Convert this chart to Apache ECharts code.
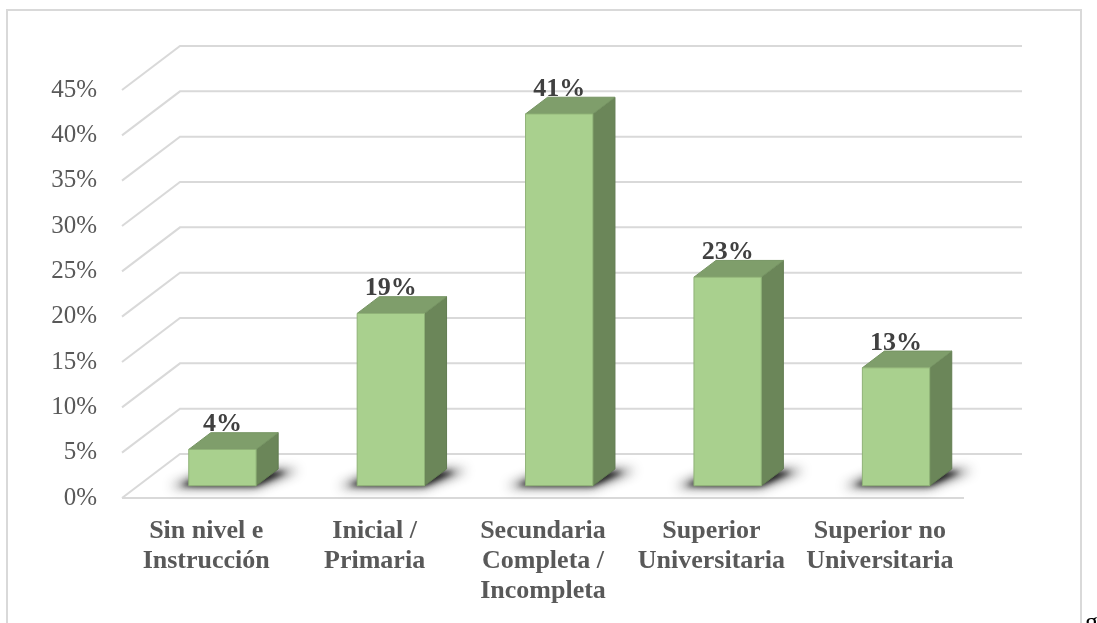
<!DOCTYPE html>
<html>
<head>
<meta charset="utf-8">
<script src="https://cdn.jsdelivr.net/npm/echarts@6/dist/echarts.min.js"></script>
<style>
  html, body { margin: 0; padding: 0; background: #ffffff; }
  #chart { width: 1097px; height: 623px; }
</style>
</head>
<body>
<div id="chart"></div>
<script>
// Education level distribution (percent of respondents)
const categories = [
  'Sin nivel e\nInstrucción',
  'Inicial /\nPrimaria',
  'Secundaria\nCompleta /\nIncompleta',
  'Superior\nUniversitaria',
  'Superior no\nUniversitaria'
];
const values = [4, 19, 41, 23, 13];
const yTicks = [0, 5, 10, 15, 20, 25, 30, 35, 40, 45];

// Oblique projection of the chart box: how far the back wall sits from the front plane
const DEPTH_X = 58;
const DEPTH_Y = 44;
// Where the bars sit inside that depth (fractions of it)
const BAR_FRONT = 0.28;
const BAR_DEPTH = 0.38;

const FONT = '"Liberation Serif", "Times New Roman", serif';
const GRID_COLOR = '#d9d9d9';

function renderWalls(params, api) {
  const cs = params.coordSys;
  const v = api.value(1);
  const y = api.coord([0, v])[1];
  const x0 = cs.x, x1 = cs.x + cs.width;
  const children = [{
    type: 'polyline',
    shape: { points: [[x0, y], [x0 + DEPTH_X, y - DEPTH_Y], [x1 + DEPTH_X, y - DEPTH_Y]] },
    style: { stroke: GRID_COLOR, lineWidth: 2, fill: null }
  }];
  if (v === 0) {
    children.push({
      type: 'line',
      shape: { x1: x0, y1: y, x2: x1, y2: y },
      style: { stroke: GRID_COLOR, lineWidth: 2 }
    });
  }
  return { type: 'group', children: children };
}

// blurred dark footprint on the floor; the shape itself sits off-canvas
function floorShadow(pts, blur, color) {
  const OFF = 3000;
  return {
    type: 'polygon',
    shape: { points: pts.map(p => [p[0] - OFF, p[1]]) },
    style: { fill: '#000', shadowColor: color, shadowBlur: blur, shadowOffsetX: OFF, shadowOffsetY: 0 }
  };
}

function renderBar(params, api) {
  const idx = api.value(0);
  const val = api.value(1);
  const base = api.coord([idx, 0]);
  const top = api.coord([idx, val]);
  const w = api.size([1, 0])[0] * 0.4;
  const cx = base[0] + DEPTH_X * BAR_FRONT;
  const yB = base[1] - DEPTH_Y * BAR_FRONT;
  const yT = top[1] - DEPTH_Y * BAR_FRONT;
  const xL = cx - w / 2, xR = cx + w / 2;
  const dx = DEPTH_X * BAR_DEPTH, dy = DEPTH_Y * BAR_DEPTH;
  return {
    type: 'group',
    children: [
      floorShadow([
        [xL - 18, yB + 1], [xR, yB + 1],
        [xR + dx + 20, yB - dy + 1], [xL + dx, yB - dy + 1]
      ], 11, 'rgba(30,30,30,0.85)'),
      floorShadow([
        [xL - 8, yB], [xR, yB],
        [xR + dx + 8, yB - dy + 3], [xL + dx, yB - dy + 3]
      ], 5, 'rgba(20,20,20,0.8)'),
      {
        type: 'polygon',
        shape: { points: [[xR, yT], [xR + dx, yT - dy], [xR + dx, yB - dy], [xR, yB]] },
        style: { fill: '#6b8659', stroke: '#627c51', lineWidth: 1 }
      },
      {
        type: 'polygon',
        shape: { points: [[xL, yT], [xR, yT], [xR + dx, yT - dy], [xL + dx, yT - dy]] },
        style: { fill: '#7f9e6b', stroke: '#769463', lineWidth: 1 }
      },
      {
        type: 'rect',
        shape: { x: xL, y: yT, width: w, height: yB - yT },
        style: { fill: '#a9d08e', stroke: '#8fb277', lineWidth: 1 }
      },
      {
        type: 'text',
        style: {
          text: val + '%', x: cx, y: yT - 25,
          align: 'center', verticalAlign: 'middle',
          fontFamily: FONT, fontWeight: 'bold', fontSize: 26, fill: '#404040'
        }
      }
    ]
  };
}

const chart = echarts.init(document.getElementById('chart'), null, { renderer: 'canvas' });
chart.setOption({
  animation: false,
  backgroundColor: '#ffffff',
  grid: { left: 122, right: 133, top: 90, bottom: 125, containLabel: false },
  xAxis: {
    type: 'category',
    data: categories,
    axisLine: { show: false },
    axisTick: { show: false },
    splitLine: { show: false },
    axisLabel: {
      interval: 0, margin: 18,
      fontFamily: FONT, fontWeight: 'bold', fontSize: 26, lineHeight: 30, color: '#595959'
    }
  },
  yAxis: {
    type: 'value', min: 0, max: 45, interval: 5,
    axisLine: { show: false },
    axisTick: { show: false },
    splitLine: { show: false },
    axisLabel: {
      formatter: '{value}%', margin: 25,
      fontFamily: FONT, fontSize: 25, color: '#595959'
    }
  },
  graphic: [
    {
      type: 'rect', silent: true, z: -10,
      shape: { x: 7, y: 10, width: 1074, height: 700 },
      style: { fill: null, stroke: GRID_COLOR, lineWidth: 2 }
    },
    {
      type: 'text', silent: true,
      style: { text: 'g', x: 1085, y: 610, fontFamily: FONT, fontSize: 26, fill: '#000', verticalAlign: 'top' }
    }
  ],
  series: [
    {
      type: 'custom', silent: true, z: 1,
      renderItem: renderWalls,
      data: yTicks.map(v => [0, v])
    },
    {
      type: 'custom', silent: true, z: 2,
      renderItem: renderBar,
      data: values.map((v, i) => [i, v])
    }
  ]
});
</script>
</body>
</html>
